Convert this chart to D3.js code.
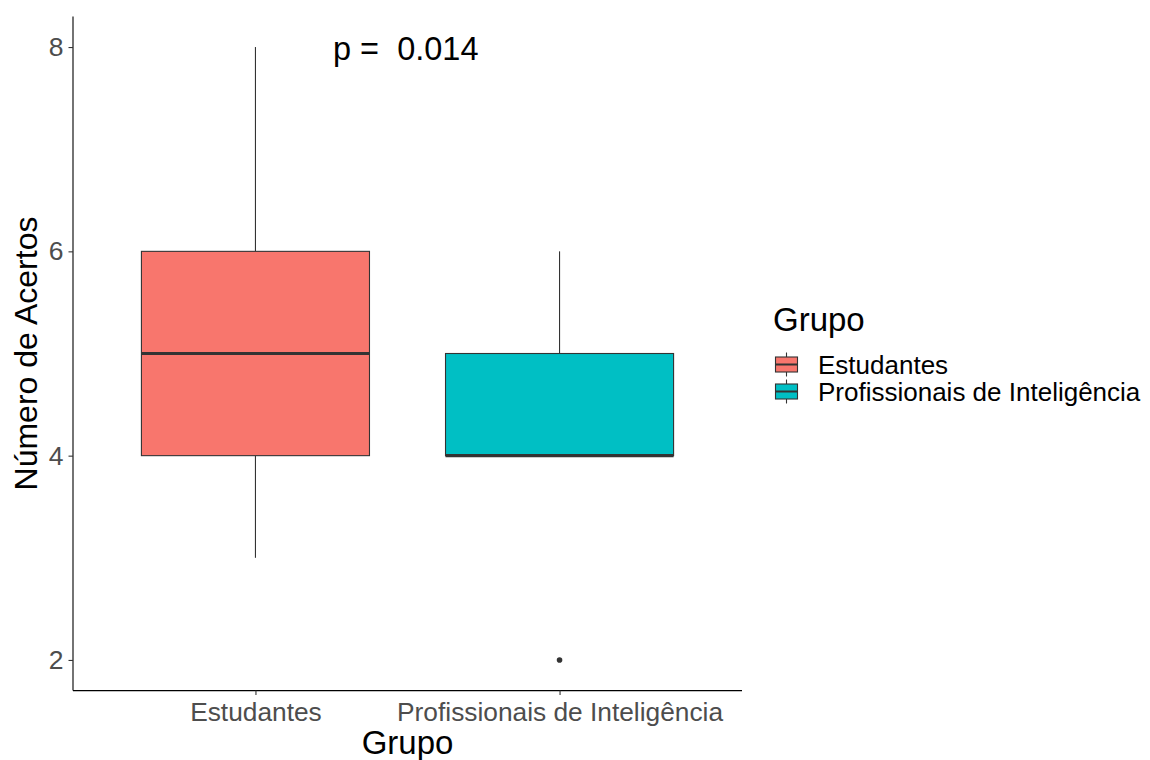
<!DOCTYPE html>
<html>
<head>
<meta charset="utf-8">
<script src="https://cdn.jsdelivr.net/npm/d3@7"></script>
<style>
  html, body { margin: 0; padding: 0; background: #ffffff; }
  svg { display: block; font-family: "Liberation Sans", Arial, sans-serif; }
</style>
</head>
<body>
<svg id="chart" width="1150" height="760"></svg>
<script>
// Groups and their box-plot summaries
const groups = ["Estudantes", "Profissionais de Inteligência"];
const colors = ["#F8766D", "#00BFC4"];
const whiskerLow = [3, 4];
const q1 = [4, 4];
const median = [5, 4];
const q3 = [6, 5];
const whiskerHigh = [8, 6];
const outliers = [[], [2]];
const yTicks = [2, 4, 6, 8];
const pLabel = "p =  0.014";

const svg = d3.select("#chart");
const panel = { left: 73, right: 742, top: 16.4, bottom: 690.6 };

// y scale with 5% expansion around the 2..8 data range
const y = d3.scaleLinear().domain([1.7, 8.3]).range([panel.bottom, panel.top]);
// discrete x positions 1..n with 0.6 unit expansion
const xPos = d3.scaleLinear().domain([0.4, groups.length + 0.6]).range([panel.left, panel.right]);
const boxHalf = 0.375;

const data = groups.map((g, i) => ({
  g, i, color: colors[i],
  lo: whiskerLow[i], q1: q1[i], med: median[i], q3: q3[i], hi: whiskerHigh[i], out: outliers[i]
}));

const boxes = svg.append("g").selectAll("g").data(data).join("g");

// whiskers
boxes.append("line")
  .attr("x1", d => xPos(d.i + 1)).attr("x2", d => xPos(d.i + 1))
  .attr("y1", d => y(d.q3)).attr("y2", d => y(d.hi))
  .attr("stroke", "#333333").attr("stroke-width", 1.1);
boxes.append("line")
  .attr("x1", d => xPos(d.i + 1)).attr("x2", d => xPos(d.i + 1))
  .attr("y1", d => y(d.q1)).attr("y2", d => y(d.lo))
  .attr("stroke", "#333333").attr("stroke-width", 1.1);

// boxes
boxes.append("rect")
  .attr("x", d => xPos(d.i + 1 - boxHalf))
  .attr("width", d => xPos(d.i + 1 + boxHalf) - xPos(d.i + 1 - boxHalf))
  .attr("y", d => y(d.q3))
  .attr("height", d => y(d.q1) - y(d.q3))
  .attr("fill", d => d.color)
  .attr("stroke", "#333333").attr("stroke-width", 1.1);

// medians
boxes.append("line")
  .attr("x1", d => xPos(d.i + 1 - boxHalf)).attr("x2", d => xPos(d.i + 1 + boxHalf))
  .attr("y1", d => y(d.med)).attr("y2", d => y(d.med))
  .attr("stroke", "#333333").attr("stroke-width", 3.2);

// outliers
boxes.selectAll("circle").data(d => d.out.map(v => ({ v, i: d.i }))).join("circle")
  .attr("cx", d => xPos(d.i + 1)).attr("cy", d => y(d.v))
  .attr("r", 2.8).attr("fill", "#333333");

// axes
const yAxis = d3.axisLeft(y).tickValues(yTicks).tickFormat(d3.format("d"))
  .tickSize(4.5).tickPadding(5).tickSizeOuter(0);
const gy = svg.append("g").attr("transform", `translate(${panel.left},0)`).call(yAxis);
gy.select(".domain").attr("d", `M0,${panel.top}V${panel.bottom}`).attr("stroke", "#000").attr("stroke-width", 1.1);
gy.selectAll(".tick line").attr("stroke", "#333333").attr("stroke-width", 1.1);
gy.selectAll(".tick text").attr("fill", "#4d4d4d").style("font-size", "26.5px").attr("font-family", null);

const xAxis = d3.axisBottom(xPos).tickValues(groups.map((g, i) => i + 1))
  .tickFormat(v => groups[v - 1]).tickSize(4.5).tickPadding(7).tickSizeOuter(0);
const gx = svg.append("g").attr("transform", `translate(0,${panel.bottom})`).call(xAxis);
gx.select(".domain").attr("d", `M${panel.left},0H${panel.right}`).attr("stroke", "#000").attr("stroke-width", 1.1);
gx.selectAll(".tick line").attr("stroke", "#333333").attr("stroke-width", 1.1);
gx.selectAll(".tick text").attr("fill", "#4d4d4d").style("font-size", "26.3px").attr("font-family", null);

// axis titles
svg.append("text").attr("x", (panel.left + panel.right) / 2).attr("y", 754)
  .attr("text-anchor", "middle").style("font-size", "33px").attr("fill", "#000").text("Grupo");
svg.append("text")
  .attr("transform", `translate(37,${(panel.top + panel.bottom) / 2}) rotate(-90)`)
  .attr("text-anchor", "middle").style("font-size", "32px").attr("fill", "#000").text("Número de Acertos");

// p-value annotation
svg.append("text").attr("x", 333).attr("y", y(8) + 13)
  .style("font-size", "32.5px").style("white-space", "pre").attr("fill", "#000").text(pLabel);

// legend
const lg = svg.append("g").attr("transform", "translate(773,0)");
lg.append("text").attr("x", 0).attr("y", 331).style("font-size", "33px").attr("fill", "#000").text("Grupo");
const items = lg.selectAll("g.item").data(data).join("g").attr("class", "item")
  .attr("transform", (d, i) => `translate(0,${364.5 + i * 27})`);
items.append("line").attr("x1", 13.5).attr("x2", 13.5).attr("y1", -12).attr("y2", 12)
  .attr("stroke", "#333333").attr("stroke-width", 1.1);
items.append("rect").attr("x", 2.5).attr("y", -7.5).attr("width", 22).attr("height", 15)
  .attr("fill", d => d.color).attr("stroke", "#333333").attr("stroke-width", 1.1);
items.append("line").attr("x1", 2.5).attr("x2", 24.5).attr("y1", 0).attr("y2", 0)
  .attr("stroke", "#333333").attr("stroke-width", 2);
items.append("text").attr("x", 45).attr("y", 0).attr("dy", "0.35em")
  .style("font-size", "26px").attr("fill", "#000").text(d => d.g);
</script>
</body>
</html>
